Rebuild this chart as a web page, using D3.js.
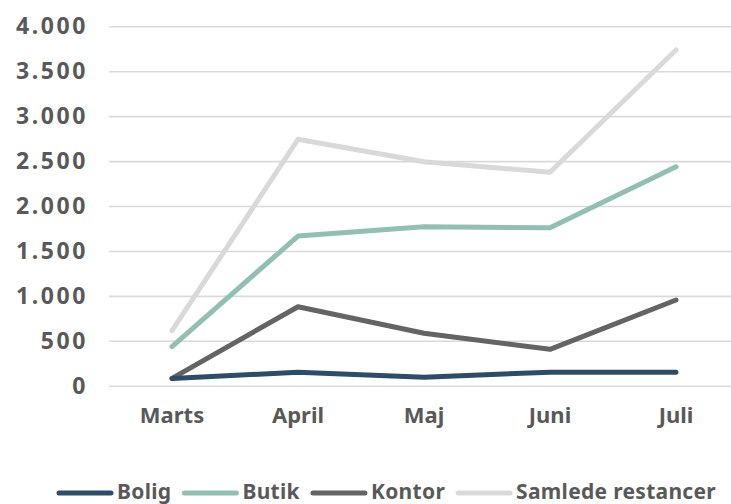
<!DOCTYPE html>
<html>
<head>
<meta charset="utf-8">
<script src="https://cdn.jsdelivr.net/npm/d3@7"></script>
<style>
  body { margin: 0; background: #fff; }
  svg { display: block; font-family: "Noto Sans", sans-serif; font-weight: 700; }
</style>
</head>
<body>
<svg id="chart" width="731" height="504"></svg>
<script>
// DATA
var months = ['Marts', 'April', 'Maj', 'Juni', 'Juli'];
var yTicks = [0, 500, 1000, 1500, 2000, 2500, 3000, 3500, 4000];
var seriesNames = ['Bolig', 'Butik', 'Kontor', 'Samlede restancer'];
var bolig = [80, 150, 95, 150, 150];
var butik = [435, 1665, 1770, 1758, 2437];
var kontor = [82, 879, 583, 405, 954];
var samlede = [612, 2742, 2493, 2375, 3737];
var seriesColors = ['#2c4d67', '#91c0b3', '#646464', '#d9d9d9'];

var svg = d3.select('#chart');

// Scales
var x = d3.scaleBand()
          .domain(months)
          .range([109, 739]);
var y = d3.scaleLinear()
          .domain([0, 4000])
          .range([385.7, 26.3]);

var da = d3.formatLocale({ decimal: ',', thousands: '.', grouping: [3], currency: ['', ''] });

// Y-Axis with gridlines
var yAxis = svg.append('g')
               .attr('transform', 'translate(109,0)')
               .call(d3.axisLeft(y)
                       .tickValues(yTicks)
                       .tickSize(-640)
                       .tickPadding(21)
                       .tickFormat(da.format(',')));
yAxis.select('.domain').remove();
yAxis.selectAll('.tick line')
     .style('stroke', '#d9d9d9')
     .style('stroke-width', '1.6px');
yAxis.selectAll('.tick text')
     .style('font-size', '23px')
     .style('font-family', '"Noto Sans", sans-serif')
     .style('font-weight', '700')
     .style('letter-spacing', '2.6px')
     .style('fill', '#595959');

// X-Axis labels
var xAxis = svg.append('g')
               .attr('transform', 'translate(0,385.7)')
               .call(d3.axisBottom(x).tickSize(0).tickPadding(22));
xAxis.select('.domain').remove();
xAxis.selectAll('.tick text')
     .style('font-size', '22px')
     .style('font-family', '"Noto Sans", sans-serif')
     .style('font-weight', '700')
     .style('fill', '#595959');

// Lines (drawn back to front)
var allSeries = [bolig, butik, kontor, samlede];
var lineGen = d3.line()
                .x(function(d, i) { return x(months[i]) + x.bandwidth() / 2; })
                .y(function(d) { return y(d); });

[3, 1, 2, 0].forEach(function(k) {
    svg.append('path')
       .attr('d', lineGen(allSeries[k]))
       .style('fill', 'none')
       .style('stroke', seriesColors[k])
       .style('stroke-width', '5px')
       .style('stroke-linecap', 'round')
       .style('stroke-linejoin', 'round');
});

// Legend
var lx = 59;
seriesNames.forEach(function(name, k) {
    var g = svg.append('g').attr('transform', 'translate(' + lx + ',0)');
    g.append('line')
     .attr('x1', 0).attr('x2', 52)
     .attr('y1', 493).attr('y2', 493)
     .style('stroke', seriesColors[k])
     .style('stroke-width', '5px')
     .style('stroke-linecap', 'round');
    var t = g.append('text')
             .attr('x', 58)
             .attr('y', 499)
             .style('font-size', '21px')
             .style('letter-spacing', '0.3px')
             .style('fill', '#595959')
             .text(name);
    lx += 58 + t.node().getComputedTextLength() + 13;
});
</script>
</body>
</html>
